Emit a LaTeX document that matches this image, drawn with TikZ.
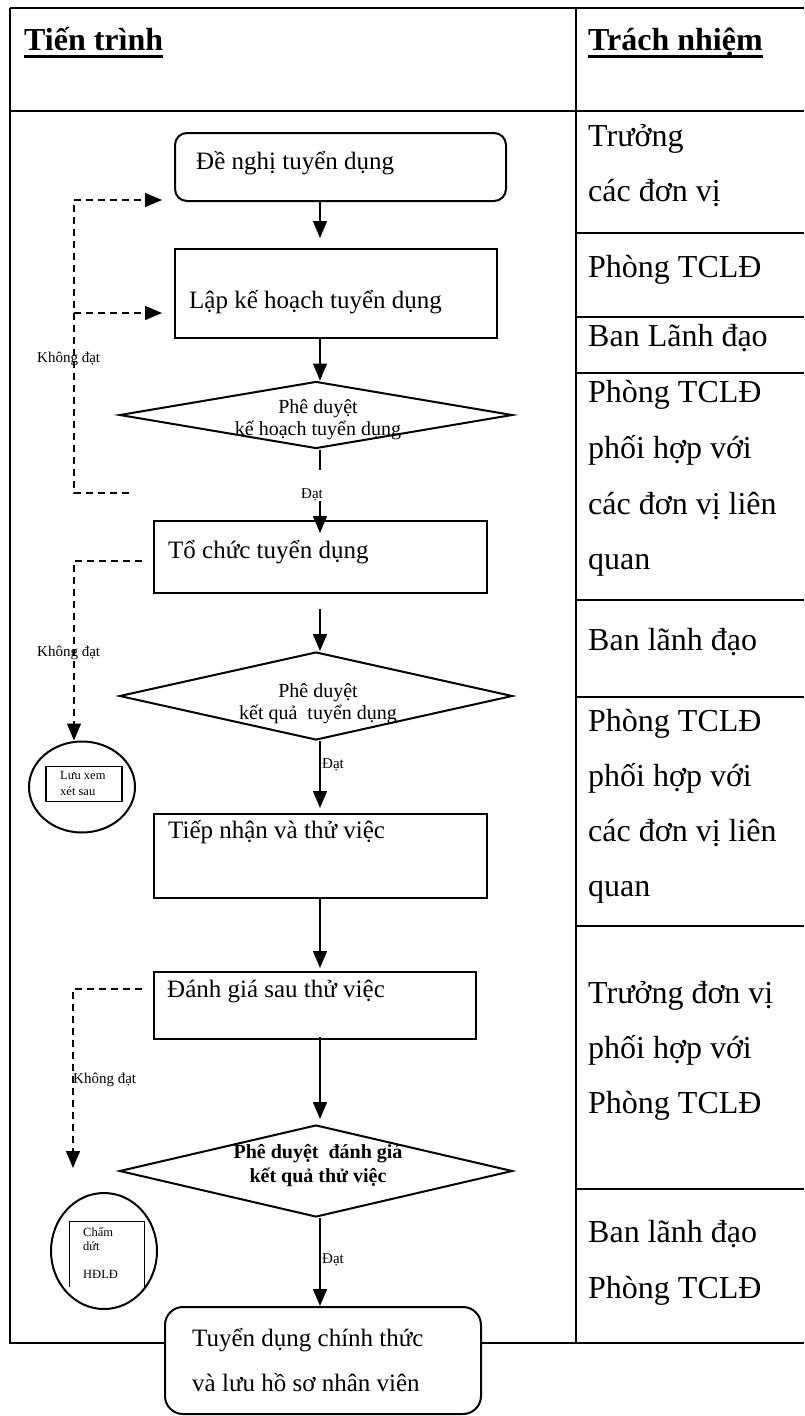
\documentclass[tikz,border=0pt]{standalone}
\usepackage{fontspec}
\setmainfont{Liberation Serif}
\usetikzlibrary{arrows.meta,shapes.geometric}

\tikzset{
  every node/.style={inner sep=0pt},
  head/.style={font=\bfseries\fontsize{32}{38}\selectfont, anchor=base west},
  resp/.style={font=\fontsize{32}{38}\selectfont, anchor=base west},
  boxtxt/.style={font=\fontsize{25}{30}\selectfont, anchor=base west},
  dtxt/.style={font=\fontsize{20}{24}\selectfont, anchor=base},
  smalltxt/.style={font=\fontsize{15}{18}\selectfont},
  tinytxt/.style={font=\fontsize{12.5}{15}\selectfont, anchor=base west},
  proc/.style={draw, line width=2pt, anchor=north west},
  decision/.style={diamond, draw, line width=2pt},
  flow/.style={-{Triangle[length=17pt,width=14pt]}, line width=1.5pt},
  back/.style={line width=1.5pt, dash pattern=on 7pt off 5pt},
}

\begin{document}
\begin{tikzpicture}[x=1pt,y=-1pt]
  \useasboundingbox (0,0) rectangle (804,1416);

  % table
  \draw[line width=2pt] (10,8) -- (804,8);
  \draw[line width=2pt] (10,111) -- (804,111);
  \draw[line width=2pt] (10,8) -- (10,1343) -- (804,1343);
  \draw[line width=2pt] (576,8) -- (576,1343);
  \foreach \y in {233,317,373,600,697,926,1189}
    \draw[line width=1.5pt] (576,\y) -- (804,\y);

  \node[head] (hp) at (24,50) {Tiến trình};
  \node[head] (hr) at (588,50) {Trách nhiệm};
  \draw[line width=3pt] ([yshift=-6pt]hp.base west) -- ([yshift=-6pt]hp.base east);
  \draw[line width=3pt] ([yshift=-6pt]hr.base west) -- ([yshift=-6pt]hr.base east);

  \foreach \y/\t [count=\i] in {146/Trưởng, 201/các đơn vị, 277/Phòng TCLĐ,
      346/Ban Lãnh đạo, 402/Phòng TCLĐ, 458/phối hợp với, 514/các đơn vị liên,
      569/quan, 650/Ban lãnh đạo, 731/Phòng TCLĐ, 786/phối hợp với,
      841/các đơn vị liên, 896/quan, 1003/Trưởng đơn vị, 1058/phối hợp với,
      1113/Phòng TCLĐ, 1242/Ban lãnh đạo, 1298/Phòng TCLĐ}
    \node[resp] (r\i) at (588,\y) {\t};

  % flow boxes
  \node[proc, rounded corners=12pt, minimum width=331pt, minimum height=68pt] (b1) at (174,132) {};
  \node[boxtxt] (t1) at (196,169) {Đề nghị tuyển dụng};
  \node[proc, minimum width=322pt, minimum height=89pt] (b2) at (174,248) {};
  \node[boxtxt] (t2) at (189,308) {Lập kế hoạch tuyển dụng};
  \node[decision, minimum width=393pt, minimum height=67pt] (d1) at (316,415) {};
  \node[dtxt] (d1a) at (318,413) {Phê duyệt};
  \node[dtxt] (d1b) at (318,435) {kế hoạch tuyển dụng};
  \node[proc, minimum width=333pt, minimum height=72pt] (b3) at (153,520) {};
  \node[boxtxt] (t3) at (168,558) {Tổ chức tuyển dụng};
  \node[decision, minimum width=393pt, minimum height=88pt] (d2) at (316,696) {};
  \node[dtxt] (d2a) at (318,697) {Phê duyệt};
  \node[dtxt] (d2b) at (318,719) {kết quả~ tuyển dụng};
  \node[proc, minimum width=333pt, minimum height=84pt] (b4) at (153,813) {};
  \node[boxtxt] (t4) at (168,838) {Tiếp nhận và thử việc};
  \node[proc, minimum width=322pt, minimum height=67pt] (b5) at (153,971) {};
  \node[boxtxt] (t5) at (167,997) {Đánh giá sau thử việc};
  \node[decision, minimum width=393pt, minimum height=92pt] (d3) at (316,1171) {};
  \node[dtxt, font=\bfseries\fontsize{20}{24}\selectfont] (d3a) at (318,1158) {Phê duyệt~ đánh giá};
  \node[dtxt, font=\bfseries\fontsize{20}{24}\selectfont] (d3b) at (318,1182) {kết quả thử việc};
  \node[proc, fill=white, rounded corners=18pt, minimum width=316pt, minimum height=107pt] (b6) at (164,1306) {};
  \node[boxtxt] (t6a) at (192,1346) {Tuyển dụng chính thức};
  \node[boxtxt] (t6b) at (192,1391) {và lưu hồ sơ nhân viên};

  % side circles
  \node[ellipse, draw, line width=2pt, minimum width=106pt, minimum height=91pt] (c1) at (82,787) {};
  \node[draw, line width=1.5pt, minimum width=76pt, minimum height=35pt] (q1) at (84,784) {};
  \node[tinytxt] (c1a) at (60,779) {Lưu xem};
  \node[tinytxt] (c1b) at (60,795) {xét sau};
  \node[ellipse, draw, line width=2pt, minimum width=106pt, minimum height=116pt] (c2) at (104,1251) {};
  \draw[line width=1pt] (69,1287) -- (69,1221) -- (144,1221) -- (144,1287);
  \node[tinytxt] (c2a) at (83,1236) {Chấm};
  \node[tinytxt] (c2b) at (83,1250) {dứt};
  \node[tinytxt] (c2c) at (83,1278) {HĐLĐ};

  % main flow
  \coordinate (ok1) at (320,470);
  \draw[flow, shorten >=10pt] (b1.south -| ok1) -- (b2.north -| ok1);
  \draw[flow] (b2.south -| ok1) -- (d1.north -| ok1);
  \draw[line width=1.5pt] (d1.south -| ok1) -- (ok1);
  \node[smalltxt, anchor=base] (l1) at (312,498) {Đạt};
  \draw[flow, shorten >=-13pt] (l1.south -| ok1) -- (b3.north -| ok1);
  \draw[flow, shorten <=15pt] (b3.south -| ok1) -- (d2.north -| ok1);
  \draw[flow, shorten >=5pt] (d2.south -| ok1) -- (b4.north -| ok1);
  \node[smalltxt, anchor=base west] (l2) at (322,768) {Đạt};
  \draw[flow, shorten >=3pt] (b4.south -| ok1) -- (b5.north -| ok1);
  \draw[flow, shorten <=-3pt, shorten >=5pt] (b5.south -| ok1) -- (d3.north -| ok1);
  \draw[flow] (d3.south -| ok1) -- (b6.north -| ok1);
  \node[smalltxt, anchor=base west] (l3) at (322,1263) {Đạt};

  % loops back (Khong dat)
  \coordinate (e1) at (129,493);
  \coordinate (j1) at (74,493);
  \coordinate (j2) at (74,200);
  \coordinate (a1) at (162,200);
  \coordinate (j3) at (74,313);
  \coordinate (a2) at (162,313);
  \draw[back] (e1) -- (j1) -- (j2);
  \draw[back, -{Triangle[length=17pt,width=14pt]}] (j2) -- (a1);
  \draw[back, -{Triangle[length=17pt,width=14pt]}] (j3) -- (a2);
  \node[smalltxt, anchor=base west] (k1) at (37,362) {Không đạt};

  \coordinate (e2) at (142,561);
  \coordinate (j4) at (74,561);
  \draw[back, -{Triangle[length=17pt,width=14pt]}] (e2) -- (j4) -- (j4 |- c1.north);
  \node[smalltxt, anchor=base west] (k2) at (37,656) {Không đạt};

  \coordinate (e3) at (142,989);
  \coordinate (j5) at (73,989);
  \coordinate (a3) at (73,1168);
  \draw[back, -{Triangle[length=17pt,width=14pt]}] (e3) -- (j5) -- (a3);
  \node[smalltxt, anchor=base west] (k3) at (73,1083) {Không đạt};
\end{tikzpicture}
\end{document}
